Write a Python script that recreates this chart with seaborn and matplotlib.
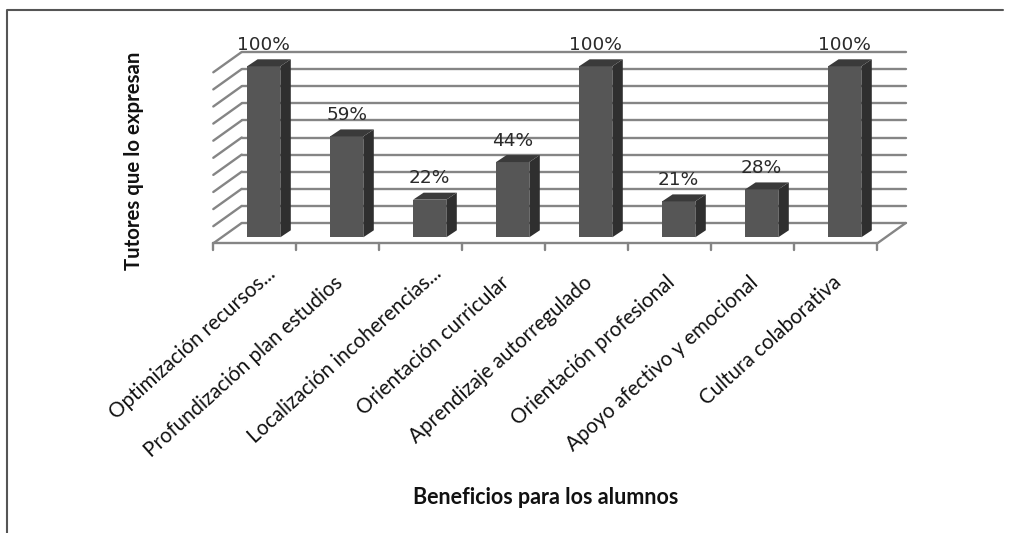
import matplotlib
matplotlib.use("Agg")
import matplotlib.pyplot as plt
from matplotlib.lines import Line2D
from matplotlib.patches import Polygon
import pandas as pd
import seaborn as sns

categories = ["Optimización recursos...", "Profundización plan estudios",
              "Localización incoherencias...", "Orientación curricular",
              "Aprendizaje autorregulado", "Orientación profesional",
              "Apoyo afectivo y emocional", "Cultura colaborativa"]
values = [100, 59, 22, 44, 100, 21, 28, 100]
value_labels = ["100%", "59%", "22%", "44%", "100%", "21%", "28%", "100%"]
grid_levels = [0, 10, 20, 30, 40, 50, 60, 70, 80, 90, 100]
x_title = "Beneficios para los alumnos"
y_title = "Tutores que lo expresan"

W, H = 1013, 533
sns.set_theme(style="white")
plt.rcParams["font.family"] = ["Lato", "DejaVu Sans"]
fig = plt.figure(figsize=(W / 100, H / 100), dpi=100, facecolor="white")

# axes = plane of the bars' front faces
L, R, B, T = 222.2, 886.2, 237.3, 66.3
ax = fig.add_axes([L / W, 1 - B / H, (R - L) / W, (B - T) / H])
df = pd.DataFrame({"cat": categories, "val": values})
sns.barplot(data=df, x="cat", y="val", color="#565656", saturation=1, width=0.40,
            ax=ax, zorder=3, legend=False, linewidth=0)
ax.set_xlim(-0.5, 7.5)
ax.set_ylim(0, 100)
ax.set_xlabel("")
ax.set_ylabel("")
ax.set_yticks([])
ax.set_xticks(range(len(categories)))
ax.set_xticklabels([])
ax.tick_params(length=0)
ax.patch.set_alpha(0)
sns.despine(ax=ax, left=True, bottom=True)

ux, uy = 1 / 83.0, 100 / 171.0       # data units per pixel
gc = "#858585"
fx, fy = -8.9 * ux, -6.0 * uy         # front floor offset from bar plane
bx, by = 19.5 * ux, 14.3 * uy         # back wall offset from bar plane

def line(xs, ys, **kw):
    ax.add_line(Line2D(xs, ys, color=gc, lw=1.7, clip_on=False, zorder=1, **kw))

for lv in grid_levels:
    line([-0.5 + fx, -0.5 + bx], [lv + fy, lv + by])
    if lv > 0:
        line([-0.5 + bx, 7.5 + bx], [lv + by, lv + by])
line([-0.5 + bx, 7.5 + bx], [by, by])
line([7.5 + fx, 7.5 + bx], [fy, by])
line([-0.5 + fx, 7.5 + fx], [fy, fy])
for i in range(len(categories) + 1):
    line([i - 0.5 + fx, i - 0.5 + fx], [fy, fy - 7 * uy])

# 3-D faces derived from the bars themselves
sx, sy = 10.5 * ux, 7.0 * uy
for bar, lab in zip(ax.patches, value_labels):
    x0, w, h = bar.get_x(), bar.get_width(), bar.get_height()
    x1 = x0 + w
    ax.add_patch(Polygon([(x1, 0), (x1 + sx, sy), (x1 + sx, h + sy), (x1, h)],
                         fc="#2f2f2f", ec="none", zorder=3, clip_on=False))
    ax.add_patch(Polygon([(x0, h), (x0 + sx, h + sy), (x1 + sx, h + sy), (x1, h)],
                         fc="#3a3a3a", ec="none", zorder=3, clip_on=False))
    ax.text(x0 + w / 2, h + 12.5 * uy, lab, ha="center", va="bottom", fontsize=13.3,
            color="#2a2a2a", family=["DejaVu Sans"], clip_on=False, zorder=4)

# category labels, rotated; truncated labels end closer to the axis
for i, c in enumerate(categories):
    if c.endswith("..."):
        ox, oy = 2, 20
    else:
        ox, oy = -13, 29
    ax.annotate(c, xy=(i, 0), xytext=(i + ox * ux, fy - oy * uy),
                textcoords="data", xycoords="data", rotation=42,
                rotation_mode="anchor", ha="right", va="top", fontsize=14.8,
                color="#111111", annotation_clip=False)

fig.text(546 / W, 1 - 498 / H, x_title, ha="center", va="center", fontsize=15.5,
         fontweight="bold", color="#111111")
fig.text(134 / W, 1 - 161 / H, y_title, ha="center", va="center", rotation=90,
         fontsize=14.7, fontweight="bold", color="#111111")

# outer frame
fig.add_artist(Line2D([7 / W, 7 / W, 1003 / W], [0, 1 - 10 / H, 1 - 10 / H],
                      color="#555555", lw=1.5))

fig.savefig("out.png", dpi=100, facecolor="white")
